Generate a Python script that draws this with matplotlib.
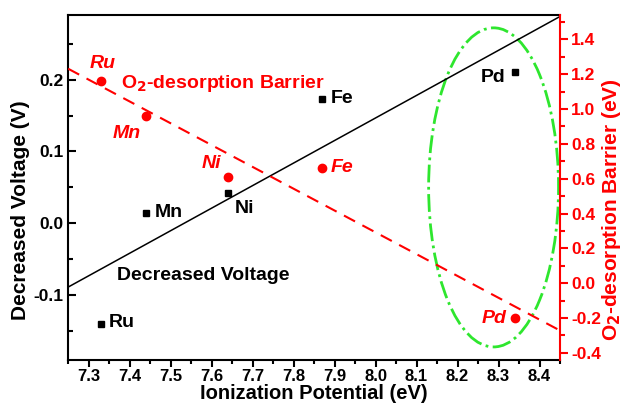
import numpy as np
import matplotlib.pyplot as plt
from matplotlib.patches import Ellipse
from matplotlib.ticker import MultipleLocator

plt.rcParams['font.family'] = ['Liberation Sans', 'DejaVu Sans']
plt.rcParams['font.weight'] = 'bold'

elements = ["Ru", "Mn", "Ni", "Fe", "Pd"]
ionization = [7.33, 7.44, 7.64, 7.87, 8.34]
voltage = [-0.14, 0.015, 0.042, 0.173, 0.21]
barrier = [1.16, 0.957, 0.607, 0.664, -0.20]

# label offsets in points (dx, dy, ha)
volt_lab = {"Ru": (6, 1, "left"), "Mn": (6, 0, "left"), "Ni": (5, -11, "left"),
            "Fe": (6, 0, "left"), "Pd": (-7, -4, "right")}
bar_lab = {"Ru": (1, 13, "center"), "Mn": (-4, -12, "right"), "Ni": (-5, 10, "right"),
           "Fe": (6, 0, "left"), "Pd": (-6, 0, "right")}

red = "#ff0000"
fs_lab = 14
fs_tick = 12.5
fs_axis = 15

fig = plt.figure(figsize=(6.25, 4.03), dpi=100)
ax = fig.add_axes([0.109, 0.107, 0.787, 0.856])
ax2 = ax.twinx()

xs = np.array([7.25, 8.45])
p1 = np.polyfit(ionization, voltage, 1)
p2 = np.polyfit(ionization, barrier, 1)

ax.plot(xs, np.polyval(p1, xs), color="black", lw=1.1)
ax.plot(ionization, voltage, "s", color="black", ms=5)
for e, x, y in zip(elements, ionization, voltage):
    dx, dy, ha = volt_lab[e]
    ax.annotate(e, (x, y), xytext=(dx, dy), textcoords="offset points",
                ha=ha, va="center", fontsize=fs_lab, fontweight="bold")

ax2.plot(xs, np.polyval(p2, xs), "--", color=red, lw=1.5, dashes=(6, 4))
ax2.plot(ionization, barrier, "o", color=red, ms=6)
for e, x, y in zip(elements, ionization, barrier):
    dx, dy, ha = bar_lab[e]
    ax2.annotate(e, (x, y), xytext=(dx, dy), textcoords="offset points",
                 ha=ha, va="center", fontsize=fs_lab, fontweight="bold",
                 style="italic", color=red)

ax.text(7.37, -0.072, "Decreased Voltage", fontsize=fs_lab, fontweight="bold", va="center")
ax.text(7.38, 0.194, "O$_\\mathbf{2}$-desorption Barrier", fontsize=fs_lab,
        fontweight="bold", va="center", color=red)

ax.add_patch(Ellipse((8.288, 0.05), 0.317, 0.444, fill=False, ls="-.",
                     color="#2ee62e", lw=2))

ax.set_xlim(7.25, 8.45)
ax.set_ylim(-0.19, 0.29)
ax2.set_ylim(-0.44, 1.54)

ax.xaxis.set_minor_locator(MultipleLocator(0.05))
ax.yaxis.set_minor_locator(MultipleLocator(0.05))
ax2.yaxis.set_minor_locator(MultipleLocator(0.1))

xt = np.arange(7.3, 8.45, 0.1)
ax.set_xticks(xt)
ax.set_xticklabels([f"{v:.1f}" for v in xt])
ax.set_yticks([-0.1, 0.0, 0.1, 0.2])
ax.set_yticklabels(["-0.1", "0.0", "0.1", "0.2"])
rt = np.arange(-0.4, 1.45, 0.2)
ax2.set_yticks(rt)
ax2.set_yticklabels([f"{v:.1f}".replace("-0.0", "0.0") for v in rt])

ax.tick_params(axis="x", which="both", direction="out", width=1.5, labelsize=12, pad=1.5)
ax.tick_params(axis="x", which="major", length=5)
ax.tick_params(axis="x", which="minor", length=3)
ax.tick_params(axis="y", which="both", direction="in", width=1.5, labelsize=fs_tick)
ax.tick_params(axis="y", which="major", length=6)
ax.tick_params(axis="y", which="minor", length=3.5)
ax2.tick_params(axis="y", which="both", direction="out", width=1.5, labelsize=fs_tick,
                color=red, labelcolor=red, pad=2)
ax2.tick_params(axis="y", which="major", length=6)
ax2.tick_params(axis="y", which="minor", length=3.5)

for s in ax.spines.values():
    s.set_linewidth(1.5)
ax.spines["right"].set_visible(False)
for s in ["top", "left", "bottom"]:
    ax2.spines[s].set_visible(False)
ax2.spines["right"].set_color(red)
ax2.spines["right"].set_linewidth(1.5)

ax.set_xlabel("Ionization Potential (eV)", fontsize=14.5, fontweight="bold", labelpad=0)
ax.set_ylabel("Decreased Voltage (V)", fontsize=fs_axis, fontweight="bold")
ax2.set_ylabel("O$_\\mathbf{2}$-desorption Barrier (eV)", fontsize=fs_axis,
               fontweight="bold", color=red)
ax.yaxis.set_label_coords(-0.078, 0.435)
ax2.yaxis.set_label_coords(1.082, 0.435)

fig.savefig("out.png", dpi=100)
